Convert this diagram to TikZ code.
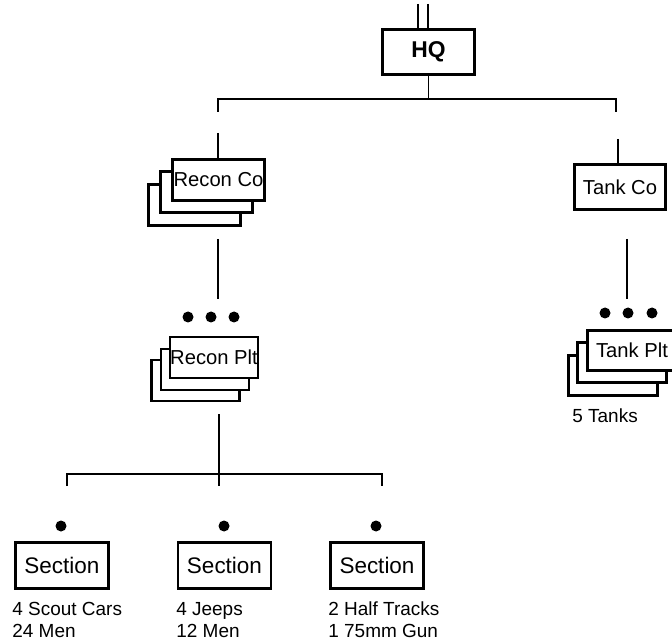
\documentclass[tikz,border=0pt]{standalone}
\usepackage{fontspec}
\setmainfont{Liberation Sans}

\tikzset{
  unit/.style={draw=black,fill=white,line width=1.6pt,inner sep=0pt,
    minimum width=1.84cm,minimum height=0.82cm,font=\fontsize{11.5}{13}\selectfont},
  dot/.style={circle,fill=black,inner sep=0pt,minimum size=0.22cm},
  link/.style={line width=0.8pt},
  stub/.style={line width=1.6pt},
  info/.style={anchor=base west,align=left,inner sep=0pt,font=\fontsize{10.8}{12.5}\selectfont}
}

\begin{document}
\begin{tikzpicture}[x=0.02cm,y=-0.02cm]
      \useasboundingbox (0,0) rectangle (672,641);

      % headquarters
      \node[unit,minimum width=1.84cm,minimum height=0.9cm,font=\bfseries\fontsize{13}{15}\selectfont] (hq) at (428.5,52) {HQ};
      \coordinate (hqa) at (418,4);
      \coordinate (hqb) at (428,4);
      \draw[stub] (hqa) -- (hqa |- hq.north);
      \draw[stub] (hqb) -- (hqb |- hq.north);

      \coordinate (bus) at (428.5,99);
      \coordinate (busl) at (218,112);
      \coordinate (busr) at (616,112);
      \draw[link] (hq.south) -- (hq.south |- bus);
      \draw[link] (busl) -- (busl |- bus) -- (busr |- bus) -- (busr);

      % recon company (three deep)
      \node[unit] (rc3) at (194.5,205) {};
      \node[unit] (rc2) at (206.5,192) {};
      \node[unit] (rc) at (218.5,180) {Recon Co};
      \coordinate (rcstub) at (218,133);
      \draw[stub] (rcstub) -- (rcstub |- rc.north);

      % tank company
      \node[unit,minimum height=0.9cm,minimum width=1.82cm] (tc) at (620,187) {Tank Co};
      \coordinate (tcstub) at (618,139);
      \draw[stub] (tcstub) -- (tcstub |- tc.north);

      % recon platoon
      \node[dot] (rp1) at (188,317) {};
      \node[dot] (rp2) at (211,317) {};
      \node[dot] (rp3d) at (234,317) {};
      \node[unit,minimum width=1.76cm] (rp3) at (195.5,380.5) {};
      \node[unit,minimum width=1.76cm] (rp2b) at (205,369.5) {};
      \node[unit,minimum width=1.76cm] (rp) at (214,357.5) {Recon Plt};
      \draw[link,shorten <=0.24cm,shorten >=0.36cm] (218,0 |- rc3.south) coordinate (rcdown) -- (rcdown |- rp2.center);

      % tank platoon
      \node[dot] (tp1) at (605,313) {};
      \node[dot] (tp2) at (628,313) {};
      \node[dot] (tp3) at (652,313) {};
      \node[unit,minimum width=1.78cm,minimum height=0.8cm] (tp3b) at (613,375.5) {};
      \node[unit,minimum width=1.78cm,minimum height=0.8cm] (tp2b) at (622,362.5) {};
      \node[unit,minimum width=1.78cm,minimum height=0.8cm] (tp) at (632,350.5) {Tank Plt};
      \draw[link,shorten <=0.56cm,shorten >=0.16cm] (627,0 |- tc.south) coordinate (tcdown) -- (tcdown |- tp2.north);
      \node[info] (tpinfo) at (572,422) {5 Tanks};

      % sections
      \coordinate (sb) at (219,474);
      \coordinate (sbl) at (67,486);
      \coordinate (sbr) at (382,486);
      \coordinate (sbc) at (219,486);
      \draw[link,shorten <=0.24cm] (sbc |- rp3.south) -- (sbc);
      \draw[link] (sbl) -- (sbl |- sb) -- (sbr |- sb) -- (sbr);

      \node[dot] (s1d) at (61,526) {};
      \node[dot] (s2d) at (224,526) {};
      \node[dot] (s3d) at (376,526) {};

      \node[unit,minimum width=1.86cm,minimum height=0.92cm,font=\fontsize{12.8}{14}\selectfont] (s1) at (62,565.5) {Section};
      \node[unit,minimum width=1.86cm,minimum height=0.92cm,font=\fontsize{12.8}{14}\selectfont] (s2) at (224.5,565.5) {Section};
      \node[unit,minimum width=1.86cm,minimum height=0.92cm,font=\fontsize{12.8}{14}\selectfont] (s3) at (377,565.5) {Section};

      % second line sits on the base anchor
      \node[info] (s1info) at (12,637) {4 Scout Cars\\24 Men};
      \node[info] (s2info) at (176,637) {4 Jeeps\\12 Men};
      \node[info] (s3info) at (328,637) {2 Half Tracks\\1 75mm Gun};
    \end{tikzpicture}
\end{document}
